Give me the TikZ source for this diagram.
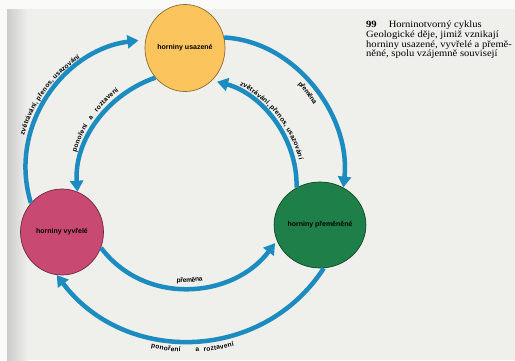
\documentclass[tikz,border=0pt]{standalone}
\usepackage{fontspec}
\setmainfont{Liberation Serif}
\newfontfamily\lblsans{Liberation Sans}
\newfontfamily\capserif[FakeStretch=1.1]{Liberation Serif}
\usetikzlibrary{arrows.meta,shapes.geometric,decorations.text}
\definecolor{pagebg}{RGB}{239,239,235}
\definecolor{margincol}{RGB}{250,250,249}
\definecolor{flowblue}{RGB}{28,140,192}
\definecolor{sedyel}{RGB}{252,196,92}
\definecolor{ignpink}{RGB}{200,74,114}
\definecolor{metgreen}{RGB}{30,128,72}
\newcommand\arclblfont{\lblsans\bfseries\fontsize{6.6}{7}\selectfont}
\begin{document}
\begin{tikzpicture}[x=1pt,y=1pt,
  rock/.style={ellipse, draw=#1!55!black, fill=#1, line width=0.7pt, inner sep=0pt,
    font=\lblsans\bfseries\fontsize{7}{8}\selectfont},
  flow/.style={draw=flowblue, line width=4.5pt, -{Triangle[width=13pt,length=11pt]}},
  arclbl/.style 2 args={decorate, decoration={text along path, text align=center,
    raise=#2, text={|\arclblfont|#1}}}
]
\useasboundingbox (0,0) rectangle (515,360);
% page background
\fill[margincol] (0,0) rectangle (515,360);
\fill[pagebg] (7,0) rectangle (515,351);
\shade[left color=black!20, right color=pagebg] (7,0) rectangle (28,351);

% rocks
\node[rock=sedyel, minimum width=80pt, minimum height=87pt] (sed) at (185,312) {horniny usazené};
\node[rock=ignpink, minimum width=83pt, minimum height=86pt] (ign) at (62,128) {horniny vyvřelé};
\node[rock=metgreen, minimum width=80pt, minimum height=86pt] (met) at (320,135) {horniny přeměněné};

% outer cycle
\draw[flow, shorten >=7pt] (ign.137) to[out=107, in=187, looseness=1.04] (sed.168);
\draw[flow] (sed.15) to[out=-3, in=84, looseness=0.96] (met.58);
\draw[flow] (met.-85) to[out=237, in=307, looseness=1.08] (ign.263);
% inner cycle
\draw[flow] (sed.225) to[out=199, in=94, looseness=0.95] (ign.69);
\draw[flow, shorten >=5pt] (met.122) to[out=89, in=345, looseness=0.95] (sed.-50);
\draw[flow, shorten >=3pt] (ign.-22) to[out=-53, in=233, looseness=1.06] (met.200);

% labels along the arcs
\path[arclbl={zvětrávání, přenos, usazování}{5.5pt}]
  (ign.137) to[out=107, in=187, looseness=1.04] (sed.168);
\path[arclbl={přeměna}{-10pt}]
  (sed.15) to[out=-3, in=84, looseness=0.96] (met.58);
\path[arclbl={ponoření{\hspace{14pt}}a{\hspace{4pt}}roztavení}{-11pt}]
  (ign.263) to[out=307, in=237, looseness=1.08] (met.-85);
\path[arclbl={ponoření{\hspace{6pt}}a{\hspace{6pt}}roztavení}{5.5pt}]
  (ign.69) to[out=94, in=199, looseness=0.95] (sed.225);
\path[arclbl={zvětrávání, přenos, usazování}{5.5pt}]
  (sed.-50) to[out=345, in=89, looseness=0.95] (met.122);
\path[arclbl={přeměna}{5.5pt}]
  (ign.-22) to[out=-53, in=233, looseness=1.06] (met.200);

% caption
\node[anchor=north west, inner sep=0pt, align=left,
  font=\capserif\fontsize{9.6}{9.7}\selectfont] (cap) at (366,339)
  {\textbf{99}\hspace{12pt}Horninotvorný cyklus\\
   Geologické děje, jimiž vznikají\\
   horniny usazené, vyvřelé a přemě-\\
   něné, spolu vzájemně souvisejí};
\end{tikzpicture}
\end{document}
